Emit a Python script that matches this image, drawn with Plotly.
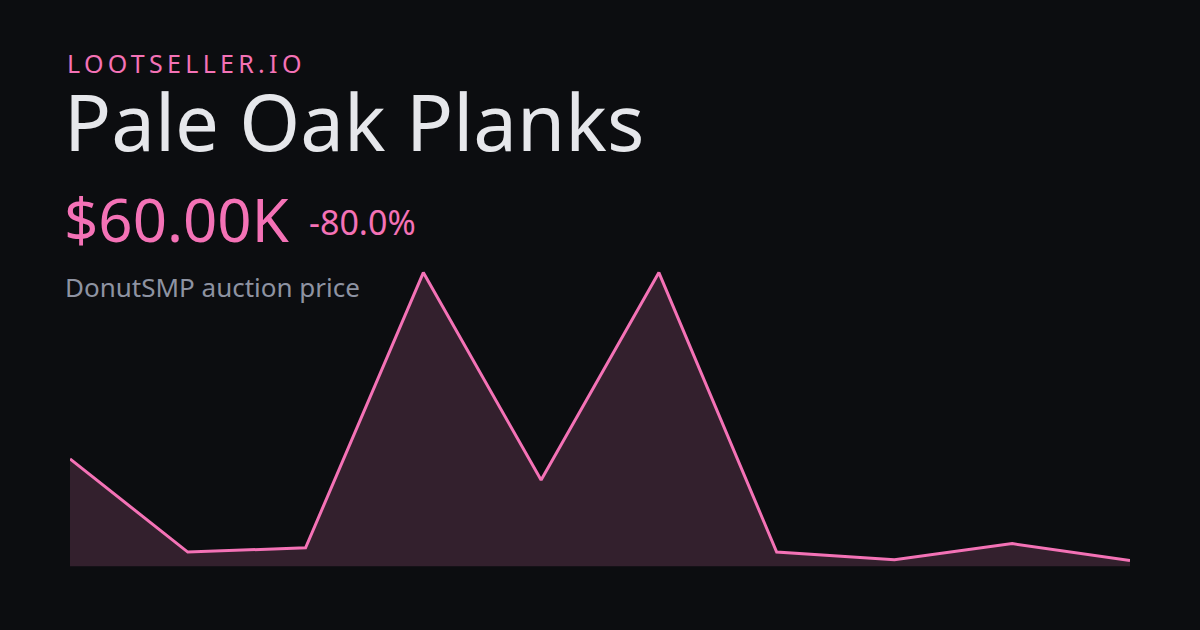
import plotly.graph_objects as go

# Data
points = list(range(10))
prices_k = [300, 80, 90, 740, 250, 740, 80, 62, 100, 60]

brand = "LOOTSELLER.IO"
item_name = "Pale Oak Planks"
price_label = "$60.00K"
change_label = "-80.0%"
subtitle = "DonutSMP auction price"

BG = "#0c0d10"
PINK = "#f472b6"
FILL = "#33202d"
W, H = 1200, 630

ymin = min(prices_k) - 0.02 * (max(prices_k) - min(prices_k))

fig = go.Figure()
fig.add_trace(go.Scatter(
    x=points, y=prices_k, mode="lines",
    line=dict(color=PINK, width=3),
    fill="tozeroy", fillcolor=FILL,
    hoverinfo="skip",
))

def py(px):
    return 1 - px / H

annos = [
    dict(text=brand, x=93 / W, y=py(63.5), font=dict(size=25, color=PINK)),
    dict(text=item_name, x=62 / W, y=py(121), font=dict(size=78, color="#e6e7eb")),
    dict(text=price_label, x=62 / W, y=py(219), font=dict(size=60, color=PINK)),
    dict(text=change_label, x=307 / W, y=py(222), font=dict(size=34, color=PINK)),
    dict(text=subtitle, x=63 / W, y=py(287), font=dict(size=26, color="#8e93a2")),
]
for a in annos:
    fig.add_annotation(xref="paper", yref="paper", xanchor="left", yanchor="middle",
                       showarrow=False, **a)

fig.update_layout(
    width=W, height=H,
    margin=dict(l=0, r=0, t=0, b=0),
    paper_bgcolor=BG, plot_bgcolor=BG,
    showlegend=False,
    font=dict(family="Noto Sans"),
    xaxis=dict(domain=[70 / W, 1130 / W], range=[0, 9], visible=False, fixedrange=True),
    yaxis=dict(domain=[py(566.3), py(247.2)], range=[ymin, 800], visible=False, fixedrange=True),
    hovermode=False,
)

post = """
document.body.style.margin = '0';
document.body.style.background = '#0c0d10';
document.querySelectorAll('text.annotation-text').forEach(function(t){
  if (t.textContent === 'LOOTSELLER.IO') { t.style.letterSpacing = '4.3px'; }
});
"""
fig.write_html("out.html", post_script=post, config={"displayModeBar": False})
